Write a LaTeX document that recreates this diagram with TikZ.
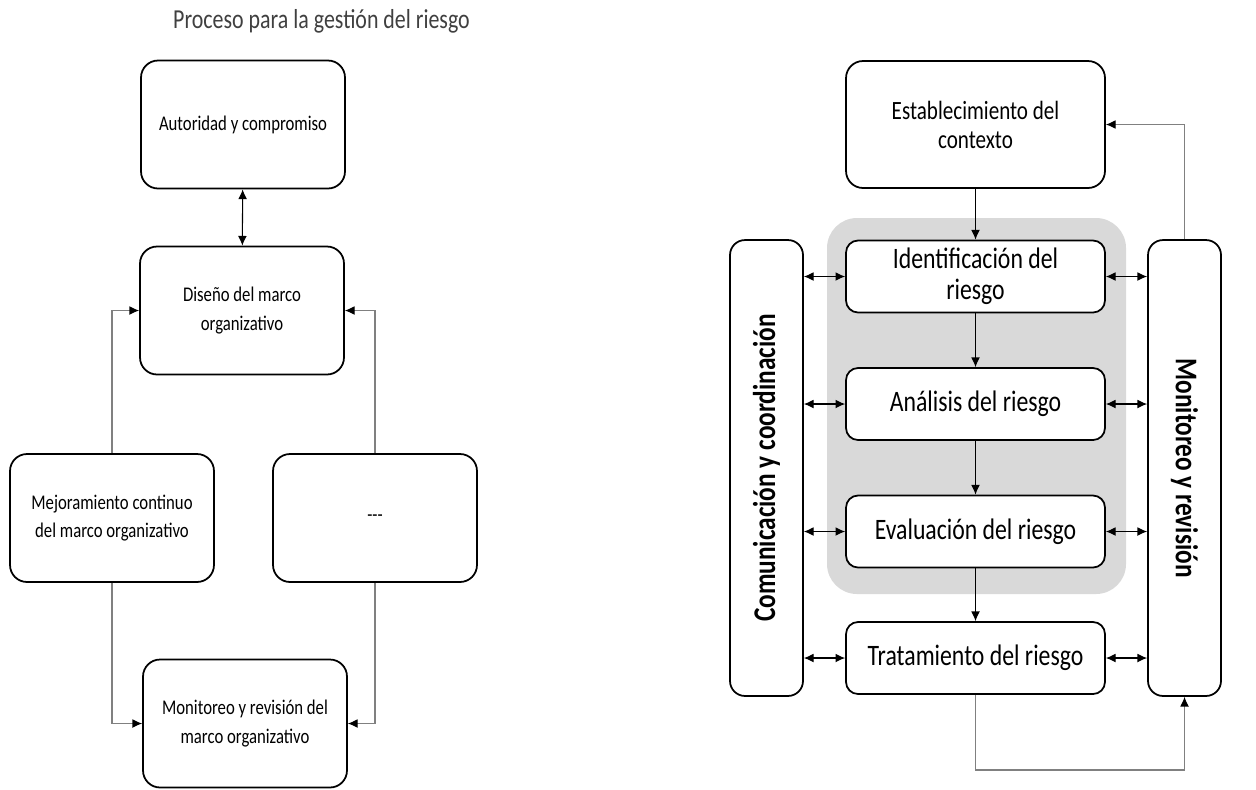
\documentclass[tikz,border=0pt]{standalone}
\usepackage{fontspec}
\setmainfont{Carlito}[FakeStretch=0.8]
\usetikzlibrary{arrows.meta, calc}

\tikzset{
  caja/.style={draw, line width=1pt, rounded corners=0.34cm, align=center,
    minimum width=4.08cm, minimum height=2.56cm, font=\fontsize{11.9}{16}\selectfont},
  cajariesgo/.style={draw, line width=1pt, rounded corners=0.24cm, fill=white, align=center,
    minimum width=5.18cm, minimum height=1.44cm, font=\fontsize{16.9}{17.6}\selectfont},
  columna/.style={draw, line width=1pt, rounded corners=0.3cm, fill=white,
    minimum width=9.12cm, minimum height=1.46cm, font=\fontsize{18}{20}\selectfont\bfseries},
  punta/.tip={Latex[length=5.5pt,width=5pt,color=black]},
  flecha/.style={-punta, line width=0.6pt},
  doble/.style={punta-punta, line width=0.6pt},
  retro/.style={-punta, line width=0.6pt, draw=black!50},
}

\begin{document}
\begin{tikzpicture}[x=0.02cm, y=-0.02cm]
  \useasboundingbox (0,0) rectangle (1256,789);

  \node[anchor=base, text=black!75, font=\fontsize{15.6}{18}\selectfont]
    (titulo) at (321.5,28) {Proceso para la gestión del riesgo};

  % marco organizativo
  \node[caja] (aut) at (243,124.5) {Autoridad y compromiso};
  \node[caja] (dis) at (242,310.5) {Diseño del marco\\organizativo};
  \node[caja] (mej) at (112,518) {Mejoramiento continuo\\del marco organizativo};
  \node[caja] (otr) at (375,518) {{-}{-}{-}};
  \node[caja] (mon) at (245,723.5) {Monitoreo y revisión del\\marco organizativo};

  \draw[doble] (aut) -- (dis);
  \draw[retro] (mej.north) |- (dis.west);
  \draw[retro] (otr.north) |- (dis.east);
  \draw[retro] (mej.south) |- (mon.west);
  \draw[retro] (otr.south) |- (mon.east);

  % proceso de riesgo
  \fill[black!15, rounded corners=0.6cm] (827,218) rectangle (1126,594);
  \node[cajariesgo, minimum height=2.54cm, rounded corners=0.34cm,
    font=\fontsize{15}{16.5}\selectfont] (est) at (975.5,124.5) {Establecimiento del\\contexto};
  \node[cajariesgo] (ide) at (975.5,276.5) {Identificación del\\riesgo};
  \node[cajariesgo] (ana) at (975.5,404) {Análisis del riesgo};
  \node[cajariesgo] (eva) at (975.5,531.5) {Evaluación del riesgo};
  \node[cajariesgo] (tra) at (975.5,658) {Tratamiento del riesgo};
  \node[columna, rotate=90] (com) at (766.5,468) {Comunicación y coordinación};
  \node[columna, rotate=-90] (mrv) at (1184.5,468) {Monitoreo y revisión};

  \draw[flecha] (est) -- (ide);
  \draw[flecha] (ide) -- (ana);
  \draw[flecha] (ana) -- (eva);
  \draw[flecha] (eva) -- (tra);
  \foreach \b in {ide,ana,eva,tra} {
    \draw[doble] (com.south |- \b.west) -- (\b.west);
    \draw[doble] (\b.east) -- (mrv.south |- \b.east);
  }

  \coordinate (vuelta) at (1184.5,770);
  \draw[retro] (mrv.west) |- (est.east);
  \draw[retro] (tra.south) |- (vuelta) -- (mrv.east);
\end{tikzpicture}
\end{document}
